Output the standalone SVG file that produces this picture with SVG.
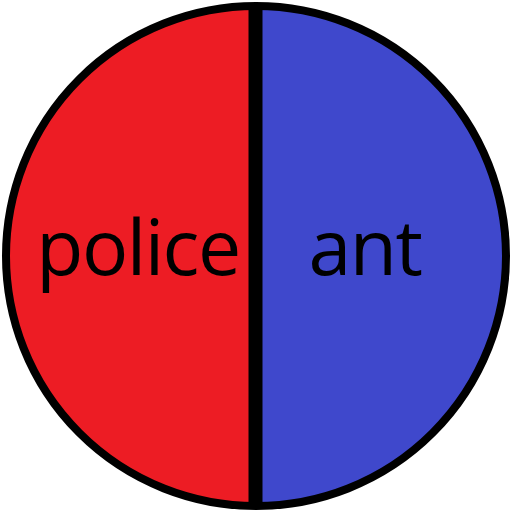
<svg xmlns="http://www.w3.org/2000/svg" width="512" height="512" viewBox="0 0 512 512">
<style>
.lbl{font-family:"Open Sans","Noto Sans",sans-serif;font-size:77px;letter-spacing:-1.5px;fill:#000;text-anchor:middle}
</style>
<defs>
<clipPath id="c"><circle cx="256" cy="256" r="250"/></clipPath>
</defs>
<g id="left">
<rect x="0" y="0" width="256" height="512" fill="#ED1C24" clip-path="url(#c)"/>
<text class="lbl" x="138" y="275">police</text>
</g>
<g id="right">
<rect x="256" y="0" width="256" height="512" fill="#3F48CC" clip-path="url(#c)"/>
<text class="lbl" x="365" y="275">ant</text>
</g>
<g id="connectors">
<line x1="255.5" y1="4" x2="255.5" y2="508" stroke="#000" stroke-width="14" clip-path="url(#c)"/>
<circle cx="256" cy="256" r="250" fill="none" stroke="#000" stroke-width="8"/>
</g>
</svg>
